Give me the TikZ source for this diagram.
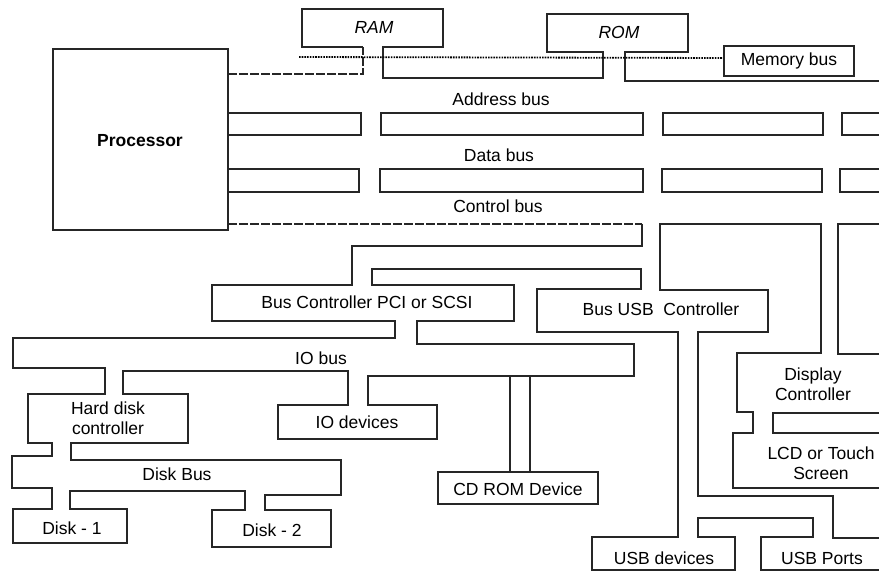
\documentclass[tikz,border=0pt]{standalone}
\usepackage{fontspec}
\setmainfont{Liberation Sans}
\begin{document}
\begin{tikzpicture}[x=1pt,y=-1pt,
  wall/.style={draw=black!85, line width=1.1pt, line join=miter},
  brk/.style={wall, dash pattern=on 9pt off 2pt},
  dots/.style={draw=black, line width=1.8pt, dash pattern=on 1.6pt off 1.1pt},
  lbl/.style={inner sep=0pt, font=\fontsize{17.5}{20.5}\selectfont},
  lbli/.style={lbl, font=\fontsize{17.5}{20.5}\selectfont\itshape},
  lblb/.style={lbl, font=\fontsize{17.5}{20.5}\selectfont\bfseries}]
\useasboundingbox (0,0) rectangle (879,572);
\fill[white] (0,0) rectangle (879,572);

% Processor
\draw[wall] (53,49) rectangle (228,230);
\node[lblb] (proc) at (140,141) {Processor};

% Memory: RAM, ROM and the memory band
\draw[brk] (228,74) -- (363,74) -- (363,47);
\draw[wall] (363,47) -- (302,47) -- (302,9) -- (443,9) -- (443,47) -- (383,47)
  -- (383,78) -- (603,78) -- (603,52) -- (547,52) -- (547,14) -- (688,14)
  -- (688,52) -- (625,52) -- (625,81) -- (879,81);
\node[lbli] (ram) at (374,27) {RAM};
\node[lbli] (rom) at (619,32) {ROM};
\draw[dots] (299,57) -- (724,58);
\draw[wall] (724,46) rectangle (854,76);
\node[lbl] (membus) at (789,61) {Memory bus};

% Address bus walls
\node[lbl] (addr) at (501,99) {Address bus};
\draw[wall] (228,113) -- (361,113) -- (361,135) -- (228,135);
\draw[wall] (381,113) rectangle (643,135);
\draw[wall] (663,113) rectangle (823,135);
\draw[wall] (879,113) -- (842,113) -- (842,135) -- (879,135);

% Data bus walls
\node[lbl] (data) at (499,155) {Data bus};
\draw[wall] (228,169) -- (359,169) -- (359,192) -- (228,192);
\draw[wall] (380,169) rectangle (643,192);
\draw[wall] (662,169) rectangle (822,192);
\draw[wall] (879,169) -- (840,169) -- (840,192) -- (879,192);

% Control bus
\node[lbl] (ctrl) at (498,206) {Control bus};
\draw[brk] (228,224) -- (642,224);
\draw[wall] (642,224) -- (642,246) -- (352,246) -- (352,285) -- (212,285)
  -- (212,321) -- (395,321) -- (395,338) -- (13,338) -- (13,368) -- (105,368)
  -- (105,394) -- (28,394) -- (28,443) -- (52,443) -- (52,456) -- (12,456)
  -- (12,488) -- (52,488) -- (52,509) -- (13,509) -- (13,543) -- (127,543)
  -- (127,509) -- (70,509) -- (70,491) -- (245,491) -- (245,510) -- (212,510)
  -- (212,547) -- (331,547) -- (331,510) -- (265,510) -- (265,495) -- (341,495)
  -- (341,460) -- (71,460) -- (71,443) -- (188,443) -- (188,394) -- (123,394)
  -- (123,371) -- (348,371) -- (348,405) -- (278,405) -- (278,439) -- (437,439)
  -- (437,405) -- (368,405) -- (368,376) -- (634,376) -- (634,344) -- (417,344)
  -- (417,321) -- (514,321) -- (514,285) -- (372,285) -- (372,269) -- (641,269)
  -- (641,289) -- (537,289) -- (537,332) -- (678,332) -- (678,537) -- (592,537)
  -- (592,570) -- (735,570) -- (735,537) -- (698,537) -- (698,518) -- (813,518)
  -- (813,537) -- (761,537) -- (761,570) -- (879,570);

% Display column and USB right side
\draw[wall] (879,538) -- (833,538) -- (833,496) -- (698,496) -- (698,332)
  -- (768,332) -- (768,290) -- (660,290) -- (660,224) -- (821,224) -- (821,353)
  -- (737,353) -- (737,412) -- (753,412) -- (753,433) -- (733,433) -- (733,488)
  -- (879,488);
\draw[wall] (879,224) -- (838,224) -- (838,354) -- (879,354);
\draw[wall] (879,413) -- (773,413) -- (773,433) -- (879,433);

% CD ROM
\draw[wall] (510,376) -- (510,472);
\draw[wall] (530,376) -- (530,472);
\draw[wall] (438,472) rectangle (598,504);

% Labels
\node[lbl] (busctrl) at (367,302) {Bus Controller PCI or SCSI};
\node[lbl] (iobus) at (321,358) {IO bus};
\node[lbl] (usbctrl) at (661,309) {Bus USB\ \ Controller};
\node[lbl, align=center] (hdc) at (108,418) {Hard disk\\controller};
\node[lbl] (iodev) at (357,422) {IO devices};
\node[lbl] (diskbus) at (177,474) {Disk Bus};
\node[lbl] (disk1) at (72,528) {Disk - 1};
\node[lbl] (disk2) at (272,530) {Disk - 2};
\node[lbl] (cdrom) at (518,489) {CD ROM Device};
\node[lbl, align=center] (disp) at (813,384) {Display\\Controller};
\node[lbl, align=center] (lcd) at (821,463) {LCD or Touch\\Screen};
\node[lbl] (usbdev) at (664,558) {USB devices};
\node[lbl] (usbport) at (822,558) {USB Ports};
\end{tikzpicture}
\end{document}
